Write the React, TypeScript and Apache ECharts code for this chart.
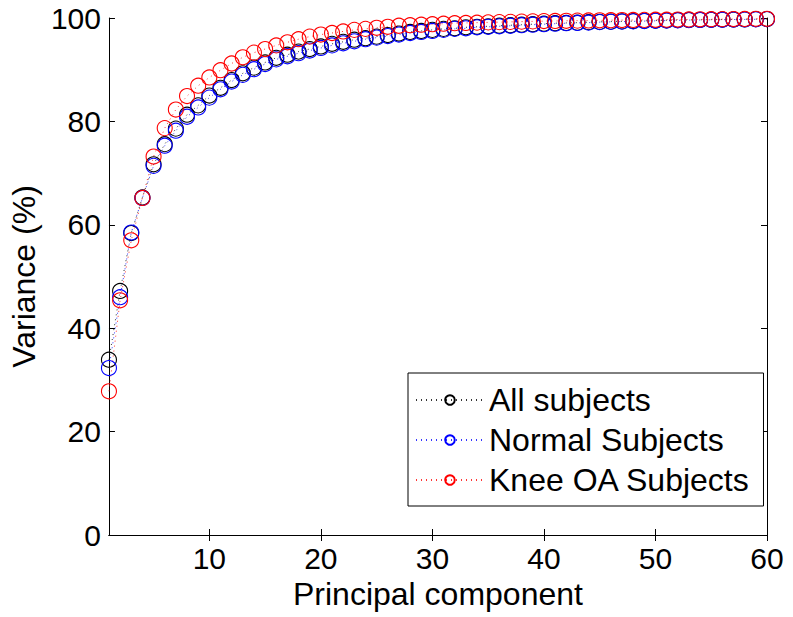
import React, { useEffect, useRef } from "react";
import * as echarts from "echarts";

const components: number[] = Array.from({ length: 60 }, (_, i) => i + 1);

const allSubjects: number[] = [
  33.9, 47.2, 58.4, 65.3, 71.7, 75.6, 78.6, 81.3, 83.1, 85.0,
  86.5, 88.0, 89.3, 90.4, 91.4, 92.3, 92.9, 93.5, 94.0, 94.5,
  95.0, 95.4, 95.8, 96.1, 96.4, 96.7, 97.0, 97.3, 97.5, 97.7,
  97.9, 98.0, 98.2, 98.3, 98.4, 98.5, 98.6, 98.7, 98.8, 98.9,
  99.0, 99.05, 99.1, 99.2, 99.25, 99.3, 99.35, 99.4, 99.45, 99.5,
  99.55, 99.6, 99.62, 99.65, 99.68, 99.7, 99.72, 99.75, 99.78, 99.8,
];

const normalSubjects: number[] = [
  32.3, 46.0, 58.5, 65.2, 71.4, 75.3, 78.2, 80.9, 82.7, 84.6,
  86.2, 87.7, 89.0, 90.1, 91.1, 92.0, 92.6, 93.2, 93.7, 94.2,
  94.7, 95.1, 95.5, 95.9, 96.2, 96.5, 96.8, 97.1, 97.3, 97.5,
  97.7, 97.9, 98.0, 98.2, 98.3, 98.4, 98.5, 98.6, 98.7, 98.8,
  98.9, 99.0, 99.05, 99.1, 99.2, 99.25, 99.3, 99.35, 99.4, 99.45,
  99.5, 99.55, 99.6, 99.62, 99.65, 99.68, 99.7, 99.72, 99.75, 99.78,
];

const kneeOASubjects: number[] = [
  27.8, 45.4, 57.0, 65.2, 73.2, 78.7, 82.3, 84.9, 86.9, 88.5,
  89.9, 91.2, 92.4, 93.3, 94.0, 94.7, 95.3, 95.9, 96.4, 96.8,
  97.1, 97.4, 97.7, 97.9, 98.1, 98.3, 98.5, 98.6, 98.7, 98.8,
  98.9, 99.0, 99.05, 99.1, 99.15, 99.2, 99.25, 99.3, 99.35, 99.4,
  99.43, 99.46, 99.49, 99.52, 99.55, 99.58, 99.6, 99.62, 99.64, 99.66,
  99.68, 99.7, 99.72, 99.74, 99.76, 99.78, 99.8, 99.82, 99.84, 99.85,
];

const xTicks: number[] = [10, 20, 30, 40, 50, 60];
const seriesNames: string[] = ["All subjects", "Normal Subjects", "Knee OA Subjects"];
const seriesColors: string[] = ["#000000", "#0000ff", "#ff0000"];

const FONT = "'Liberation Sans', Arial, Helvetica, sans-serif";

export default function App() {
  const ref = useRef<HTMLDivElement>(null);

  useEffect(() => {
    if (!ref.current) return;
    const chart = echarts.init(ref.current, undefined, { renderer: "svg" });
    const datasets = [allSubjects, normalSubjects, kneeOASubjects];

    const axisLine = { show: true, lineStyle: { color: "#000", width: 1 } };

    chart.setOption({
      animation: false,
      backgroundColor: "#ffffff",
      textStyle: { fontFamily: FONT },
      grid: { left: 106, right: 26, top: 18, bottom: 82, containLabel: false },
      legend: {
        orient: "vertical",
        left: 408,
        top: 373,
        padding: [11, 13, 10, 7],
        itemGap: 8,
        itemWidth: 68,
        itemHeight: 12,
        backgroundColor: "#ffffff",
        borderColor: "#000",
        borderWidth: 1,
        borderRadius: 0,
        selectedMode: false,
        textStyle: { fontSize: 32, color: "#000", fontFamily: FONT },
        data: seriesNames,
      },
      xAxis: [
        {
          type: "value",
          min: 1,
          max: 60,
          position: "bottom",
          name: "Principal component",
          nameLocation: "middle",
          nameGap: 43,
          nameTextStyle: { fontSize: 32, color: "#000", fontFamily: FONT },
          axisLine,
          axisTick: { show: true, inside: true, length: 6, customValues: xTicks, lineStyle: { color: "#000" } },
          axisLabel: { show: true, customValues: xTicks, fontSize: 30, color: "#000", margin: 8, fontFamily: FONT },
          splitLine: { show: false },
        },
        {
          type: "value",
          min: 1,
          max: 60,
          position: "top",
          axisLine,
          axisTick: { show: true, inside: true, length: 6, customValues: xTicks, lineStyle: { color: "#000" } },
          axisLabel: { show: false },
          splitLine: { show: false },
        },
      ],
      yAxis: [
        {
          type: "value",
          min: 0,
          max: 100,
          interval: 20,
          position: "left",
          name: "Variance (%)",
          nameLocation: "middle",
          nameGap: 66,
          nameTextStyle: { fontSize: 32, color: "#000", fontFamily: FONT },
          axisLine,
          axisTick: { show: true, inside: true, length: 6, lineStyle: { color: "#000" } },
          axisLabel: { show: true, fontSize: 30, color: "#000", margin: 8, fontFamily: FONT },
          splitLine: { show: false },
        },
        {
          type: "value",
          min: 0,
          max: 100,
          interval: 20,
          position: "right",
          axisLine,
          axisTick: { show: true, inside: true, length: 6, lineStyle: { color: "#000" } },
          axisLabel: { show: false },
          splitLine: { show: false },
        },
      ],
      series: seriesNames.map((name, s) => ({
        name,
        type: "line",
        xAxisIndex: 0,
        yAxisIndex: 0,
        clip: false,
        symbol: "circle",
        symbolSize: 15,
        showSymbol: true,
        color: seriesColors[s],
        itemStyle: { color: "rgba(255,255,255,0)", borderColor: seriesColors[s], borderWidth: 1.1 },
        lineStyle: { color: seriesColors[s], width: 1, type: [1, 4], opacity: 0.8 },
        emphasis: { disabled: true },
        data: components.map((c, i) => [c, datasets[s][i]]),
      })),
    });

    return () => chart.dispose();
  }, []);

  return (
    <div
      ref={ref}
      style={{ position: "fixed", left: 0, top: 0, width: 793, height: 617 }}
    />
  );
}
